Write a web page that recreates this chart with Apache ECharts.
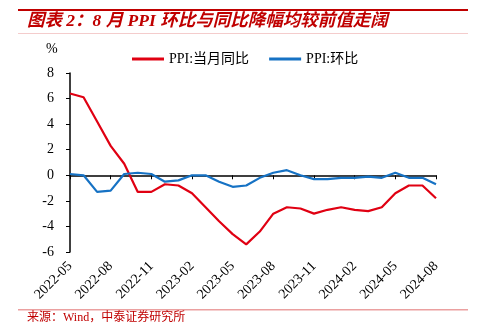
<!DOCTYPE html>
<html><head><meta charset="utf-8">
<script src="https://cdn.jsdelivr.net/npm/echarts@6/dist/echarts.min.js"></script>
<style>html,body{margin:0;padding:0;background:#fff}#c{width:477px;height:329px}</style>
</head><body><div id="c"></div>
<script>
const categories = ['2022-05','2022-06','2022-07','2022-08','2022-09','2022-10','2022-11','2022-12',
 '2023-01','2023-02','2023-03','2023-04','2023-05','2023-06','2023-07','2023-08','2023-09','2023-10','2023-11','2023-12',
 '2024-01','2024-02','2024-03','2024-04','2024-05','2024-06','2024-07','2024-08'];
const yoy = [6.4,6.1,4.2,2.3,0.9,-1.3,-1.3,-0.7,-0.8,-1.4,-2.5,-3.6,-4.6,-5.4,-4.4,-3.0,-2.5,-2.6,-3.0,-2.7,-2.5,-2.7,-2.8,-2.5,-1.4,-0.8,-0.8,-1.8];
const mom = [0.1,0.0,-1.3,-1.2,0.1,0.2,0.1,-0.5,-0.4,0.0,0.0,-0.5,-0.9,-0.8,-0.2,0.2,0.4,0.0,-0.3,-0.3,-0.2,-0.2,-0.1,-0.2,0.2,-0.2,-0.2,-0.7];
const yTicks = [-6,-4,-2,0,2,4,6,8];
const seriesNames = ['PPI:当月同比','PPI:环比'];
const FONT = '"Liberation Serif","Noto Sans CJK SC",serif';
const chart = echarts.init(document.getElementById('c'));
const showIdx = (i) => i % 3 === 0;
chart.setOption({
  animation:false,
  textStyle:{fontFamily:FONT},
  grid:{left:70,right:41,top:73,bottom:77,containLabel:false},
  legend:{top:47,left:127,itemWidth:32,itemHeight:3,itemGap:20,icon:'rect',
    textStyle:{fontFamily:FONT,fontSize:14,color:'#000'},
    data:seriesNames},
  graphic:[
    {type:'rect',shape:{x:18,y:9,width:450,height:2},style:{fill:'#C00000'}},
    {type:'text',left:27,top:13,style:{text:'图表 2：8 月 PPI 环比与同比降幅均较前值走阔',fill:'#C00000',
      font:'italic bold 17.5px "Liberation Serif","Noto Sans CJK SC",serif'}},
    {type:'rect',shape:{x:18,y:33,width:450,height:1},style:{fill:'#F4CCCC'}},
    {type:'rect',shape:{x:18,y:309,width:450,height:1.5},style:{fill:'#EBA0A0'}},
    {type:'text',left:27,top:312,style:{text:'来源：Wind，中泰证券研究所',fill:'#C00000',
      font:'12px "Liberation Serif","Noto Sans CJK SC",serif'}},
    {type:'text',left:46,top:42,style:{text:'%',fill:'#000',font:'14px "Liberation Serif",serif'}}
  ],
  xAxis:[
    {type:'category',data:categories,boundaryGap:false,position:'bottom',
     axisLine:{show:false,onZero:false},axisTick:{show:false},
     axisLabel:{rotate:45,fontSize:14,color:'#000',fontFamily:FONT,margin:12,
       interval:(i)=>showIdx(i)}},
    {type:'category',data:categories,boundaryGap:false,position:'bottom',
     axisLine:{show:true,onZero:true,lineStyle:{color:'#000',width:1.5}},
     axisTick:{show:true,length:4,interval:(i)=>showIdx(i),lineStyle:{color:'#000'}},
     axisLabel:{show:false}}
  ],
  yAxis:{type:'value',min:-6,max:8,interval:2,
    axisLine:{show:true,lineStyle:{color:'#000',width:1.5}},
    axisTick:{show:true,length:4,lineStyle:{color:'#000'}},
    splitLine:{show:false},
    axisLabel:{fontSize:14,color:'#000',fontFamily:FONT,margin:16,
      formatter:(v)=>yTicks.includes(v)?String(v):''}},
  series:[
    {name:seriesNames[0],type:'line',data:yoy,xAxisIndex:0,symbol:'none',
     lineStyle:{color:'#E00012',width:2.2},itemStyle:{color:'#E00012'}},
    {name:seriesNames[1],type:'line',data:mom,xAxisIndex:0,symbol:'none',
     lineStyle:{color:'#1672C4',width:2.2},itemStyle:{color:'#1672C4'}}
  ]
});
</script></body></html>
